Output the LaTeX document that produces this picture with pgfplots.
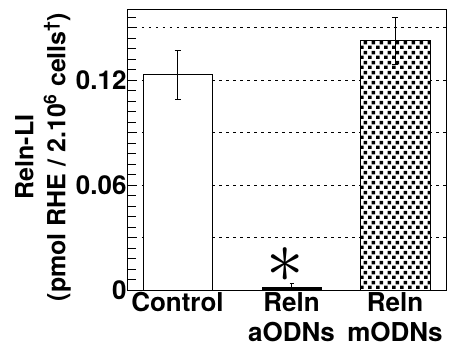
\documentclass[border=0pt]{standalone}
\usepackage{fontspec}
\setmainfont{TeX Gyre Heros}
\usepackage{pgfplots}
\pgfplotsset{compat=1.18}
\usetikzlibrary{patterns}
\pgfdeclarepatternformonly{sqdots}{\pgfqpoint{0pt}{0pt}}{\pgfqpoint{7.5pt}{10pt}}{\pgfqpoint{7.5pt}{10pt}}{%
 \pgfpathrectangle{\pgfqpoint{0pt}{0pt}}{\pgfqpoint{3.8pt}{3.8pt}}%
 \pgfpathrectangle{\pgfqpoint{3.75pt}{5pt}}{\pgfqpoint{3.8pt}{3.8pt}}%
 \pgfusepath{fill}}
\begin{document}
\begin{tikzpicture}
\begin{axis}[
 scale only axis, width=318pt, height=280pt,
 xmin=128, xmax=446, ymin=0, ymax=0.16,
 xtick={177.5,291.5,395},
 xticklabels={Control, Reln\\aODNs, Reln\\mODNs},
 x tick style={draw=none},
 ytick={0,0.03,0.06,0.09,0.12,0.15,0.18},
 yticklabels={0,,0.06,,0.12,,},
 minor y tick num=4,
 ytick pos=left, tick align=inside,
 major tick length=8pt, minor tick length=8pt,
 tick style={black, line width=0.8pt},
 ymajorgrids,
 major grid style={black, line width=0.8pt, dash pattern=on 2.5pt off 4.5pt},
 axis line style={line width=1pt},
 ticklabel style={font=\fontsize{26}{30}\selectfont\bfseries},
 yticklabel style={xshift=2pt},
 xticklabel style={align=center, yshift=1pt},
 ylabel={Reln-LI\\(pmol RHE / 2.10\textsuperscript{6} cells\textsuperscript{†})},
 ylabel style={font=\fontsize{25}{32}\selectfont\bfseries, align=center,
   at={(axis description cs:-0.267,0.475)}, anchor=center},
]
\addplot[ybar, bar shift=0pt, bar width=69, fill=white, draw=black, line width=0.8pt,
  error bars/.cd, y dir=both, y explicit,
  error bar style={line width=0.8pt},
  error mark options={rotate=90, mark size=3pt, line width=0.8pt}]
  coordinates {(177.5,0.123) +- (0,0.014)};
\addplot[ybar, bar shift=0pt, bar width=59, fill=black, draw=black, line width=0.8pt,
  error bars/.cd, y dir=plus, y explicit,
  error bar style={line width=0.8pt},
  error mark options={rotate=90, mark size=2pt, line width=0.8pt}]
  coordinates {(291.5,0.0015) +- (0,0.002)};
\addplot[ybar, bar shift=0pt, bar width=70, fill=white, draw=black, line width=0.8pt,
  postaction={pattern=sqdots},
  error bars/.cd, y dir=both, y explicit,
  error bar style={line width=0.8pt},
  error mark options={rotate=90, mark size=3pt, line width=0.8pt}]
  coordinates {(395,0.1425) +- (0,0.0135)};
\node[scale=7.5] at (axis cs:285,0.0143) {$\ast$};
\end{axis}
\pgfresetboundingbox
\path (-128pt,-58pt) rectangle (329pt,290pt);
\end{tikzpicture}
\end{document}
